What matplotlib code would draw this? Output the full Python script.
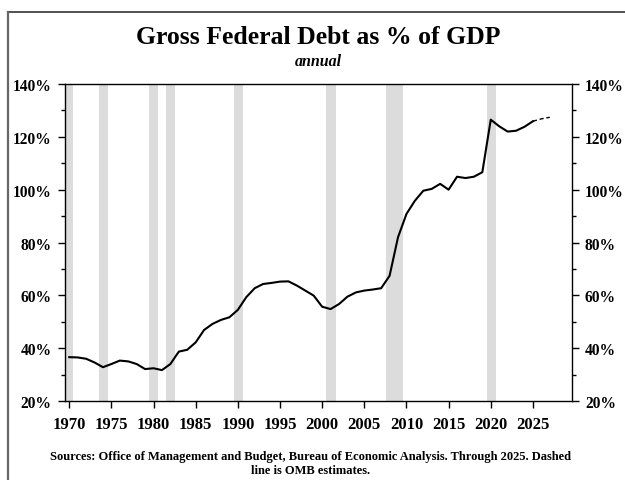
import matplotlib.pyplot as plt
from matplotlib.lines import Line2D
from matplotlib.ticker import MultipleLocator, FuncFormatter

plt.rcParams['font.family'] = ['Liberation Serif', 'DejaVu Serif']
plt.rcParams['font.weight'] = 'bold'

# ---------------- data ----------------
years = list(range(1970, 2026))
debt_pct = [36.6, 36.5, 36.0, 34.6, 32.8, 34.0, 35.3, 35.0, 34.0, 32.1,
            32.4, 31.7, 34.0, 38.7, 39.4, 42.2, 46.9, 49.2, 50.7, 51.7,
            54.5, 59.3, 62.7, 64.3, 64.7, 65.2, 65.3, 63.7, 61.8, 59.9,
            55.7, 54.8, 56.7, 59.5, 61.1, 61.8, 62.2, 62.7, 67.4, 82.0,
            90.8, 95.8, 99.6, 100.3, 102.2, 100.0, 104.9, 104.4, 104.9, 106.6,
            126.5, 124.0, 122.0, 122.3, 123.8, 125.9]
est_years = [2025, 2026, 2027]
est_pct = [125.9, 126.8, 127.4]

# recession shading (start, end)
recessions = [(1969.5, 1970.5), (1973.5, 1974.55), (1979.45, 1980.55),
              (1981.45, 1982.6), (1989.5, 1990.6), (2000.5, 2001.6),
              (2007.6, 2009.65), (2019.55, 2020.6)]

# ---------------- plot ----------------
fig = plt.figure(figsize=(6.25, 4.81), dpi=100)
ax = fig.add_axes([0.104, 0.1642, 0.8107, 0.6591])

for s, e in recessions:
    ax.axvspan(s, e, color='#dcdcdc', lw=0, zorder=0)

ax.plot(years, debt_pct, color='black', lw=1.5, zorder=3)
ax.plot(est_years, est_pct, color='black', lw=1.0, ls=(0, (3, 2)), zorder=3)

ax.set_xlim(1969.5, 2029.6)
ax.set_ylim(20, 140)
ax.set_xticks(list(range(1970, 2030, 5)))
ax.yaxis.set_major_locator(MultipleLocator(20))
ax.yaxis.set_minor_locator(MultipleLocator(10))
ax.yaxis.set_major_formatter(FuncFormatter(lambda v, p: '%d%%' % v))

ax.tick_params(axis='x', which='major', direction='out', length=5, width=1,
               labelsize=12, pad=6)
ax.tick_params(axis='y', which='major', direction='out', length=5, width=1,
               labelsize=11.2, pad=4.5, left=True, right=True,
               labelleft=True, labelright=True)
ax.tick_params(axis='y', which='minor', direction='out', length=3, width=1,
               left=True, right=True)
for lab in ax.get_xticklabels() + ax.get_yticklabels():
    lab.set_fontweight('bold')
for sp in ax.spines.values():
    sp.set_linewidth(1.0)
    sp.set_color('black')

fig.text(0.509, 0.921, 'Gross Federal Debt as % of GDP', ha='center', va='center',
         fontsize=18.5, fontweight='bold')
fig.text(0.509, 0.871, 'annual', ha='center', va='center',
         fontsize=11.5, fontweight='bold', style='italic')
fig.text(0.497, 0.036, 'Sources: Office of Management and Budget, Bureau of Economic Analysis. '
         'Through 2025. Dashed\nline is OMB estimates.', ha='center', va='center',
         fontsize=9.0, fontweight='bold', linespacing=1.25)

# outer frame (top and left edges)
fig.add_artist(Line2D([0.012, 1.0], [0.974, 0.974], transform=fig.transFigure,
                      color='#333333', lw=1.2))
fig.add_artist(Line2D([0.012, 0.012], [0.0, 0.974], transform=fig.transFigure,
                      color='#666666', lw=1.6))

fig.savefig('out.png', dpi=100)
